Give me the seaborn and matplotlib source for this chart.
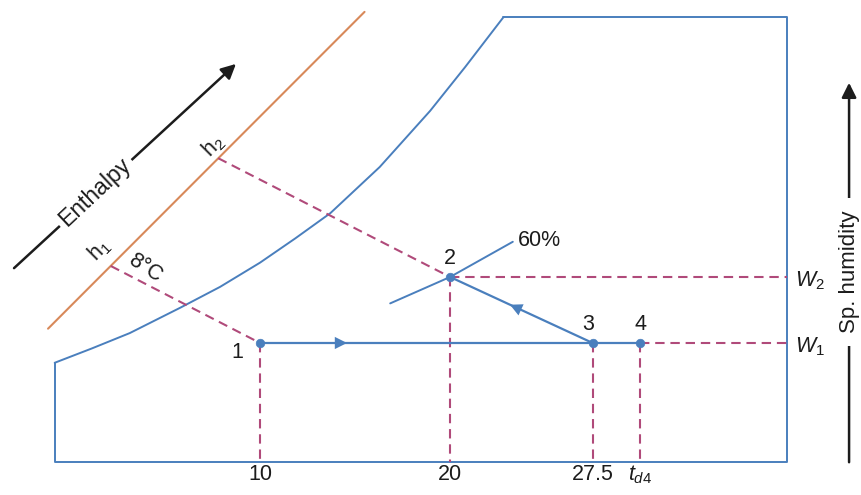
import seaborn as sns
import matplotlib.pyplot as plt

# ============================================
# Psychrometric sketch: mixing / heating process
# x = dry-bulb temp (°C), y = specific humidity (g/kg)
# ============================================

# --- state points ---
point_labels = ["1", "2", "3", "4"]
point_t = [10, 20, 27.5, 30]
point_w = [8.0, 11.0, 8.0, 8.0]
tick_labels = ["10", "20", "27.5", r"$t_{d4}$"]
w_labels = [r"$W_1$", r"$W_2$"]
w_levels = [8.0, 11.0]

# --- saturation curve ---
sat_t = [-0.8, 1.15, 3.15, 5.8, 7.9, 10.0, 11.85, 13.7, 16.3, 18.95, 20.8, 22.8]
sat_w = [7.1, 7.75, 8.45, 9.6, 10.55, 11.65, 12.75, 13.9, 16.0, 18.55, 20.55, 22.8]

# --- 60% RH curve through point 2 ---
rh60_t = [16.85, 20.0, 23.3]
rh60_w = [9.8, 11.0, 12.6]

# --- enthalpy scale line and the two enthalpy readings ---
enth_t = [-1.15, 15.5]
enth_w = [8.65, 23.05]
h_labels = [r"h$_1$", r"h$_2$"]
h_t = [2.15, 7.8]
h_w = [11.5, 16.4]

# --- chart frame ---
t_min, t_max = -0.8, 37.7
w_min, w_max = 2.6, 22.8

blue = "#4a7fbd"
dash_col = "#b04a7a"
orange = "#d8895a"
ink = "#1c1c1c"

sns.set_style("white")
plt.rcParams["font.family"] = ["Liberation Sans", "DejaVu Sans"]
plt.rcParams["mathtext.fontset"] = "custom"
plt.rcParams["mathtext.rm"] = "Liberation Sans"
plt.rcParams["mathtext.it"] = "Liberation Sans:italic"

fig = plt.figure(figsize=(8.62, 4.95), dpi=100)
ax = fig.add_axes([0, 0, 1, 1])
ax.set_xlim(-3.677, 41.67)
ax.set_ylim(1.09, 23.59)
ax.set_axis_off()

dash_kw = dict(color=dash_col, lw=1.5, dashes=(4.5, 2.8), zorder=2)

# frame + saturation curve
frame_t = [sat_t[-1], t_max, t_max, t_min, t_min]
frame_w = [w_max, w_max, w_min, w_min, sat_w[0]]
sns.lineplot(x=frame_t, y=frame_w, sort=False, estimator=None, color=blue, lw=1.4, ax=ax)
sns.lineplot(x=sat_t, y=sat_w, sort=False, estimator=None, color=blue, lw=1.4, ax=ax)
sns.lineplot(x=rh60_t, y=rh60_w, sort=False, estimator=None, color=blue, lw=1.4, ax=ax)
sns.lineplot(x=enth_t, y=enth_w, sort=False, estimator=None, color=orange, lw=1.5, ax=ax)

# dashed construction lines
ax.plot([h_t[0], point_t[0]], [h_w[0], point_w[0]], **dash_kw)
ax.plot([h_t[1], point_t[1]], [h_w[1], point_w[1]], **dash_kw)
for t, w in zip(point_t, point_w):
    ax.plot([t, t], [w, w_min], **dash_kw)
ax.plot([point_t[1], t_max], [point_w[1], point_w[1]], **dash_kw)
ax.plot([point_t[3], t_max], [point_w[3], point_w[3]], **dash_kw)

# process lines 1 -> 4 and 3 -> 2
ax.plot([point_t[0], point_t[3]], [point_w[0], point_w[3]], color=blue, lw=1.6, zorder=3)
ax.plot([point_t[2], point_t[1]], [point_w[2], point_w[1]], color=blue, lw=1.6, zorder=3)


def mid_arrow(a, b, frac):
    # arrowhead part-way along segment a -> b
    ta, wa = point_t[a], point_w[a]
    tb, wb = point_t[b], point_w[b]
    tm, wm = ta + frac * (tb - ta), wa + frac * (wb - wa)
    t0, w0 = ta + (frac - 0.02) * (tb - ta), wa + (frac - 0.02) * (wb - wa)
    ax.annotate("", xy=(tm, wm), xytext=(t0, w0),
                arrowprops=dict(arrowstyle="-|>", color=blue, lw=0, mutation_scale=22),
                zorder=4)


mid_arrow(0, 2, 0.27)
mid_arrow(2, 1, 0.58)

sns.scatterplot(x=point_t, y=point_w, color=blue, s=38, edgecolor=blue, zorder=5, ax=ax)

# --- labels ---
fs = 15.5
offsets = [(-16, -6.5), (0, 13.5), (-3, 13), (0, 13)]
for lab, t, w, off in zip(point_labels, point_t, point_w, offsets):
    ax.annotate(lab, (t, w), xytext=off, textcoords="offset points",
                ha="center", va="center", fontsize=fs, color=ink)

for lab, t in zip(tick_labels, point_t):
    ax.annotate(lab, (t, w_min), xytext=(0, -9.5), textcoords="offset points",
                ha="center", va="center", fontsize=fs, color=ink)

for lab, w in zip(w_labels, w_levels):
    ax.annotate(lab, (t_max, w), xytext=(6, -3), textcoords="offset points",
                ha="left", va="center", fontsize=fs, color=ink)

ax.annotate("60%", (rh60_t[-1], rh60_w[-1]), xytext=(3.5, 1), textcoords="offset points",
            ha="left", va="center", fontsize=fs, color=ink)

h_offsets = [(-8, 11.5), (-3.6, 8.6)]
for lab, t, w, off in zip(h_labels, h_t, h_w, h_offsets):
    ax.annotate(lab, (t, w), xytext=off, textcoords="offset points", rotation=45,
                ha="center", va="center", fontsize=fs, color=ink)

ax.annotate("8°C", (h_t[0], h_w[0]), xytext=(24.7, -1.4), textcoords="offset points",
            rotation=-33, ha="center", va="center", fontsize=fs, color=ink)

# axis-direction arrows
ax.annotate("", xy=(0.2761, 0.8747), xytext=(0.0139, 0.4545), xycoords="figure fraction",
            arrowprops=dict(arrowstyle="-|>", color=ink, lw=1.8, mutation_scale=22))
fig.text(0.110, 0.612, "Enthalpy", rotation=43, ha="center", va="center", fontsize=16.5,
         color=ink, bbox=dict(facecolor="white", edgecolor="none", pad=3))

ax.annotate("", xy=(0.985, 0.8384), xytext=(0.985, 0.0606), xycoords="figure fraction",
            arrowprops=dict(arrowstyle="-|>", color=ink, lw=1.8, mutation_scale=22))
fig.text(0.985, 0.4505, "Sp. humidity", rotation=90, ha="center", va="center", fontsize=16,
         color=ink, bbox=dict(facecolor="white", edgecolor="none", pad=9))

fig.savefig("out.png", dpi=100)
